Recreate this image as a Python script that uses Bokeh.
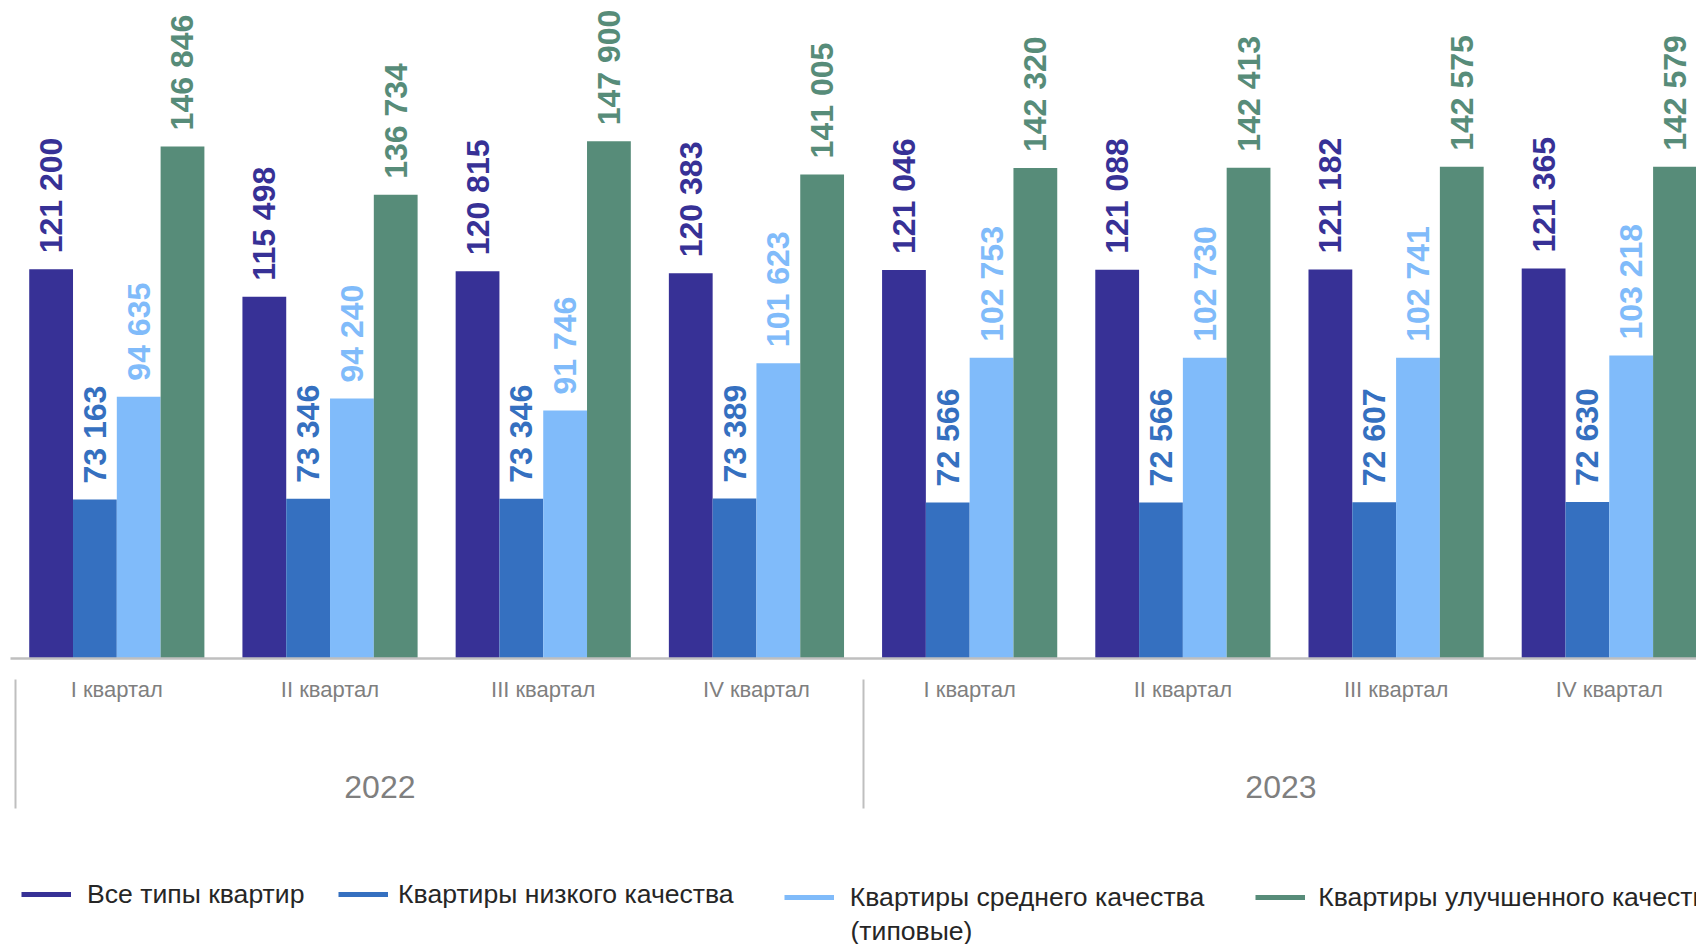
import numpy as np
from bokeh.plotting import figure
from bokeh.layouts import column
from bokeh.models import (Range1d, FixedTicker, LinearAxis, Legend, LegendItem,
                          ColumnDataSource, Label)
from bokeh.core.properties import value
from bokeh.embed import file_html
from bokeh.resources import INLINE

# ---------------- data ----------------
years = ["2022", "2023"]
quarters = ["I квартал", "II квартал", "III квартал", "IV квартал",
            "I квартал", "II квартал", "III квартал", "IV квартал"]
series_names = ["Все типы квартир",
                "Квартиры низкого качества",
                "Квартиры среднего качества\n(типовые)",
                "Квартиры улучшенного качества"]
all_types = [121200, 115498, 120815, 120383, 121046, 121088, 121182, 121365]
low_q = [73163, 73346, 73346, 73389, 72566, 72566, 72607, 72630]
mid_q = [94635, 94240, 91746, 101623, 102753, 102730, 102741, 103218]
high_q = [146846, 136734, 147900, 141005, 142320, 142413, 142575, 142579]

# ---------------- style ----------------
colors = ["#373196", "#3570C0", "#80BBFA", "#578C79"]
FONT = "Liberation Sans"
W = 1696
H_MAIN, H_LEG = 850, 94
Y0, Y1 = 40000, 177286
BW = 0.2054
year_label_pos = [1.234, 5.460]
separator_pos = [-0.473, 3.5]
legend_x = [11, 328.1, 773.8, 1245.3]
legend_y = [34.5, 34.5, 31.5, 31.5]
legend_standoff = [16, 10, 16, 13]
second_line_xy = (840, 14)
LEG_FS = "26.6px"

p = figure(width=W, height=H_MAIN, output_backend="svg", toolbar_location=None,
           x_range=Range1d(-0.4986, 7.409), y_range=Range1d(Y0, Y1),
           y_axis_location=None,
           min_border_left=10, min_border_right=0, min_border_top=0,
           min_border_bottom=H_MAIN - 658, outline_line_color=None,
           background_fill_color="white", border_fill_color="white")
p.grid.visible = False

idx = np.arange(len(quarters))
series = [all_types, low_q, mid_q, high_q]


def fmt(v):
    return f"{v:,}".replace(",", " ")


for j, (vals, col) in enumerate(zip(series, colors)):
    src = ColumnDataSource(dict(x=idx + (j - 1.5) * BW, top=vals,
                                lab=[fmt(v) for v in vals]))
    p.vbar(x="x", top="top", bottom=Y0, width=BW, source=src,
           fill_color=col, line_color=None)
    p.text(x="x", y="top", text="lab", source=src, angle=np.pi / 2,
           text_align="left", text_baseline="middle", y_offset=-16,
           text_font=value(FONT), text_font_style="bold",
           text_font_size="32px", text_color=col)

# quarter axis
ax = p.xaxis[0]
ax.ticker = FixedTicker(ticks=[int(i) for i in idx])
ax.major_label_overrides = {int(i): q for i, q in zip(idx, quarters)}
ax.axis_line_color = "#BFBFBF"
ax.axis_line_width = 2.5
ax.major_tick_in = 0
ax.major_tick_out = 0
ax.minor_tick_line_color = None
ax.major_label_standoff = 18
ax.major_label_text_font = FONT
ax.major_label_text_font_size = "22px"
ax.major_label_text_color = "#7F7F7F"

# year axis
yax = LinearAxis(ticker=FixedTicker(ticks=year_label_pos))
yax.major_label_overrides = {pos: y for pos, y in zip(year_label_pos, years)}
yax.axis_line_color = None
yax.major_tick_in = 0
yax.major_tick_out = 0
yax.major_tick_line_color = None
yax.minor_tick_line_color = None
yax.major_label_standoff = 71
yax.major_label_text_font = FONT
yax.major_label_text_font_size = "32px"
yax.major_label_text_color = "#7F7F7F"
p.add_layout(yax, "below")

# group separators
sax = LinearAxis(ticker=FixedTicker(ticks=[], minor_ticks=separator_pos))
sax.axis_line_color = None
sax.major_tick_line_color = None
sax.major_label_text_font_size = "0px"
sax.minor_tick_in = 121
sax.minor_tick_out = 8
sax.minor_tick_line_color = "#BFBFBF"
sax.minor_tick_line_width = 2
p.add_layout(sax, "below")

# ---------------- legend strip ----------------
pl = figure(width=W, height=H_LEG, output_backend="svg", toolbar_location=None,
            x_range=Range1d(0, 1), y_range=Range1d(0, 1),
            x_axis_location=None, y_axis_location=None,
            min_border=0, outline_line_color=None,
            background_fill_color="white", border_fill_color="white")
pl.grid.visible = False
for j in range(4):
    first_line, *rest = series_names[j].split("\n")
    # series drawn far outside this strip's ranges: only its legend swatch shows
    proxy = pl.line(x=idx, y=series[j], line_color=colors[j], line_width=5)
    leg = Legend(items=[LegendItem(label=first_line, renderers=[proxy])],
                 location=(legend_x[j], legend_y[j]), orientation="horizontal",
                 padding=0, margin=0, border_line_color=None,
                 background_fill_alpha=0, glyph_width=50, glyph_height=30,
                 label_height=30, label_standoff=legend_standoff[j],
                 label_text_font=FONT, label_text_font_size=LEG_FS,
                 label_text_color="#262626")
    pl.add_layout(leg)
    if rest:
        pl.add_layout(Label(x=second_line_xy[0], y=second_line_xy[1],
                            x_units="screen", y_units="screen",
                            text="\n".join(rest), text_font=FONT,
                            text_font_size=LEG_FS, text_color="#262626",
                            text_baseline="middle", text_align="left"))

page = column(p, pl, spacing=0)
open("out.html", "w").write(file_html(page, INLINE))
